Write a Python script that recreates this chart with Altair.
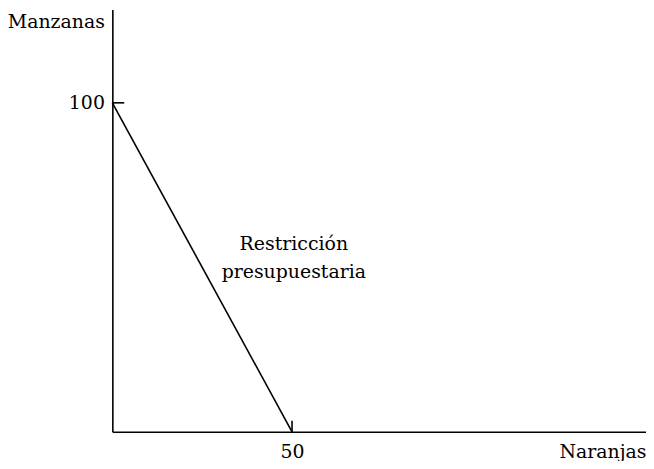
import altair as alt
import pandas as pd

# Budget line: 100 apples when 0 oranges, 50 oranges when 0 apples
naranjas = [0, 50]
manzanas = [100, 0]
label_x = [50.5]
label_y = [57.0]
label_text = ["Restricción\npresupuestaria"]
y_tick_vals = [100]
x_tick_vals = [50]

FONT = "DejaVu Serif"
FS = 19
W, H = 537, 425

line_df = pd.DataFrame({"naranjas": naranjas, "manzanas": manzanas})
lab_df = pd.DataFrame({"x": label_x, "y": label_y, "t": label_text})
ytick_df = pd.DataFrame({"v": y_tick_vals})
xtick_df = pd.DataFrame({"v": x_tick_vals})

xscale = alt.Scale(domain=[0, 148.5], nice=False, zero=True)
yscale = alt.Scale(domain=[0, 128.4], nice=False, zero=True)

xaxis = alt.Axis(
    values=x_tick_vals, ticks=False, grid=False, domainColor="black", domainWidth=1.6,
    labelFont=FONT, labelFontSize=FS, labelColor="black", labelPadding=11,
    title="Naranjas", titleFont=FONT, titleFontSize=FS, titleFontWeight="normal",
    titleColor="black", titleAngle=0, titleAlign="right", titleBaseline="middle",
    titleX=W, titleY=20,
)
yaxis = alt.Axis(
    values=y_tick_vals, ticks=False, grid=False, domainColor="black", domainWidth=1.6,
    labelFont=FONT, labelFontSize=FS, labelColor="black", labelPadding=8,
    title="Manzanas", titleFont=FONT, titleFontSize=FS, titleFontWeight="normal",
    titleColor="black", titleAngle=0, titleAlign="right", titleBaseline="middle",
    titleX=-8, titleY=12,
)

line = alt.Chart(line_df).mark_line(color="black", strokeWidth=1.6).encode(
    x=alt.X("naranjas:Q", scale=xscale, axis=xaxis),
    y=alt.Y("manzanas:Q", scale=yscale, axis=yaxis),
)

ytick = alt.Chart(ytick_df).mark_rule(color="black", strokeWidth=1.6).encode(
    y=alt.Y("v:Q", scale=yscale), x=alt.value(0), x2=alt.value(12)
)
xtick = alt.Chart(xtick_df).mark_rule(color="black", strokeWidth=1.6).encode(
    x=alt.X("v:Q", scale=xscale), y=alt.value(H), y2=alt.value(H - 11)
)

label = alt.Chart(lab_df).mark_text(
    font=FONT, fontSize=FS, color="black", lineBreak="\n", lineHeight=28,
    align="center", baseline="middle",
).encode(
    x=alt.X("x:Q", scale=xscale), y=alt.Y("y:Q", scale=yscale), text="t:N"
)

chart = alt.layer(line, ytick, xtick, label).properties(
    width=W, height=H,
    autosize=alt.AutoSizeParams(type="none"),
    padding={"left": 105, "top": 0, "right": 0, "bottom": 28},
).configure(background="white", view=alt.ViewConfig(stroke=None))

chart.save("out.html", embed_options={"renderer": "svg", "actions": False})
